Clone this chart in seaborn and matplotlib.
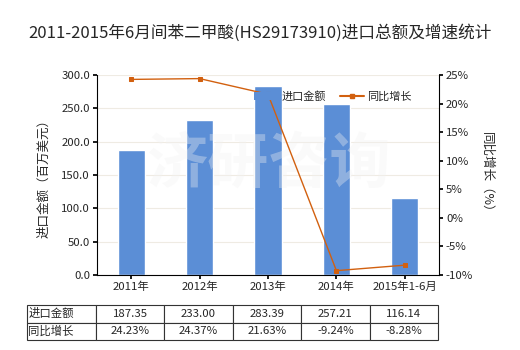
import matplotlib
matplotlib.use("Agg")
import matplotlib.pyplot as plt
import seaborn as sns
import pandas as pd
from matplotlib.patches import Patch
from matplotlib.lines import Line2D
from matplotlib.ticker import FuncFormatter

categories = ["2011年", "2012年", "2013年", "2014年", "2015年1-6月"]
import_value = [187.35, 233.00, 283.39, 257.21, 116.14]
growth = [24.23, 24.37, 21.63, -9.24, -8.28]
value_labels = ["187.35", "233.00", "283.39", "257.21", "116.14"]
growth_labels = ["24.23%", "24.37%", "21.63%", "-9.24%", "-8.28%"]

sns.set_theme(style="white")
plt.rcParams['font.family'] = ['Noto Sans CJK SC', 'DejaVu Sans']
plt.rcParams['axes.unicode_minus'] = False

bar_color = "#5B8ED6"
line_color = "#D2600F"

fig = plt.figure(figsize=(5.2, 3.5), dpi=100)
ax = fig.add_axes([97/520, 1-275/350, 342/520, 200/350])

df = pd.DataFrame({"cat": categories, "val": import_value, "g": growth})
sns.barplot(data=df, x="cat", y="val", ax=ax, color=bar_color, width=0.4, saturation=1, zorder=2)
ax.set_ylim(0, 300)
ax.set_yticks([0, 50, 100, 150, 200, 250, 300])
ax.yaxis.set_major_formatter(FuncFormatter(lambda v, p: f"{v:.1f}"))
ax.grid(axis="y", color="#EFEBE3", linewidth=0.8, zorder=0)
ax.set_axisbelow(True)
ax.set_xlabel("")
ax.set_ylabel("进口金额（百万美元）", fontsize=9, labelpad=8)
ax.tick_params(axis="both", labelsize=8.2, length=3, color="black", pad=2)
ax.tick_params(axis="y", left=True)
ax.tick_params(axis="x", bottom=True)
for s in ["top", "right"]:
    ax.spines[s].set_visible(False)
for s in ["left", "bottom"]:
    ax.spines[s].set_color("black")
    ax.spines[s].set_linewidth(0.8)

ax.text(0.5, 0.55, "济研咨询", transform=ax.transAxes, fontsize=44, color="#F2F2F2",
        alpha=0.35, ha="center", va="center", zorder=3, fontweight="bold")

ax2 = ax.twinx()
sns.pointplot(data=df, x="cat", y="g", ax=ax2, color=line_color, markers="s",
              markersize=3.5, linewidth=1.0, zorder=4)
ax2.set_ylim(-10, 25)
ax2.set_yticks([-10, -5, 0, 5, 10, 15, 20, 25])
ax2.yaxis.set_major_formatter(FuncFormatter(lambda v, p: f"{v:.0f}%"))
ax2.set_ylabel("同比增长（%）", fontsize=9, rotation=-90, labelpad=14)
ax2.tick_params(axis="y", labelsize=8.2, length=3, right=True, color="black", pad=2)
ax2.set_xlabel("")
for s in ["top", "left", "bottom"]:
    ax2.spines[s].set_visible(False)
ax2.spines["right"].set_color("black")
ax2.spines["right"].set_linewidth(0.8)
ax2.grid(False)

handles = [Patch(facecolor=bar_color, edgecolor="none"),
           Line2D([0], [0], color=line_color, marker="s", markersize=3.5, linewidth=1.5)]
leg = ax2.legend(handles, ["进口金额", "同比增长"], loc="upper right",
                 bbox_to_anchor=(0.95, 0.97), ncol=2, frameon=False, fontsize=8,
                 handlelength=2.2, columnspacing=1.2, handletextpad=0.3)

fig.suptitle("2011-2015年6月间苯二甲酸(HS29173910)进口总额及增速统计", fontsize=12, y=0.93)

cell_text = [["进口金额"] + value_labels, ["同比增长"] + growth_labels]
tab = ax.table(cellText=cell_text, cellLoc="center",
               bbox=[(27-97)/342, (275-340)/200, 411/342, 35/200],
               colWidths=[69] + [68.4]*5)
tab.auto_set_font_size(False)
tab.set_fontsize(8.2)
for (r, c), cell in tab.get_celld().items():
    cell.set_edgecolor("#333333")
    cell.set_linewidth(0.8)
    if c == 0:
        cell.PAD = 0.02
        cell._loc = "left"
        cell.get_text().set_ha("left")

fig.savefig("out.png", dpi=100)
